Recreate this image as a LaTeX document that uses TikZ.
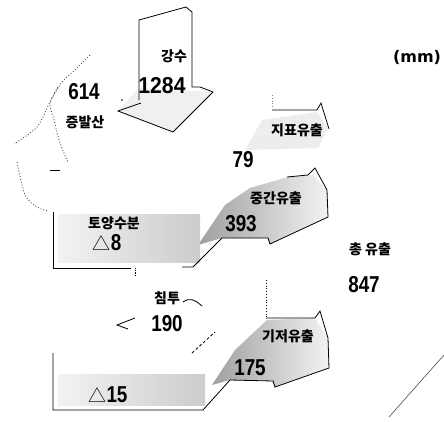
\documentclass[tikz,border=0pt]{standalone}
\usepackage{fontspec}
\usepackage{graphicx}
\setmainfont{Liberation Sans}
\newfontfamily\kr{Noto Sans CJK KR}[UprightFont={* Black}]
\newfontfamily\krl{Noto Sans CJK KR}
\newfontfamily\dv{DejaVu Sans}
\newcommand\numtxt[1]{\scalebox{0.82}[1]{\fontsize{23}{23}\selectfont\bfseries #1}}
\newcommand\trig{{\krl\fontsize{18}{18}\selectfont △}}
\begin{document}
\begin{tikzpicture}[x=1pt,y=-1pt,line width=0.8pt,
  kt/.style={font={\kr\fontsize{14}{14}\selectfont},inner sep=0pt},
  nm/.style={inner sep=0pt},
  band/.style={left color=gray!75,right color=gray!10},
  boxfill/.style={left color=gray!10,right color=gray!40},
  evap/.style={dotted,line width=0.9pt,gray!60!black}]
\useasboundingbox (0,0) rectangle (444,421);
\fill[white] (0,0) rectangle (444,421);
% light fills
\fill[gray!12] (139,88) -- (213,92) -- (173,132) -- (118,111) -- cycle;
\fill[gray!14] (245,150) -- (262,120) -- (317,112) -- (328,128) -- (318,148) -- cycle;
\shade[band] (198,245) -- (225,205) -- (250,188) -- (288,177) -- (313,175) -- (327,190) -- (328,217) -- (270,244) -- (268,238) -- (222,238) -- cycle;
\shade[band] (212,385) -- (235,350) -- (267,320) -- (315,318) -- (328,338) -- (329,368) -- (275,387) -- (273,381) -- (230,380) -- cycle;
\shade[boxfill] (58,214) rectangle (200,262);
\shade[boxfill] (58,374) rectangle (205,405);
% precipitation arrow
\draw (139,100) -- (139,20) -- (186,7) -- (192,12) -- (192,87) -- (200,87) -- (213,92) -- (173,132) -- (118,111) -- (141,103);
\fill (122,100) circle (0.8);
% evapotranspiration dotted plumes
\draw[evap] plot[smooth] coordinates {(90,55) (75,70) (62,82) (50,102) (37,127) (14,144)};
\draw[evap] plot[smooth] coordinates {(17,162) (25,195) (37,207) (48,211)};
\draw[evap] plot[smooth] coordinates {(58,87) (50,103) (54,120) (60,143) (68,162)};
\draw (50,170) -- (60,170);
% surface runoff
\draw (272,110) -- (317,110) -- (321,103) -- (329,129);
\draw[dotted,gray] (272,95) -- (272,108);
% interflow
\draw (287,177) -- (308,175) -- (315,168) -- (327,190) -- (328,217) -- (270,244) -- (268,238) -- (222,238) -- (193,267) -- (182,267);
% soil box
\draw (53,212) -- (53,268) -- (131,268);
\draw[densely dotted] (135,268) -- (135,276);
% infiltration
\draw (183,302) .. controls (190,297) and (195,300) .. (202,306);
\draw (135,318) -- (117,325) -- (128,329);
\draw[densely dashed] (192,353) -- (215,332);
\draw[dotted] (266,280) -- (266,318);
% baseflow and groundwater box
\draw (266,318) -- (315,318) -- (320,311) -- (328,338) -- (329,368) -- (275,387) -- (273,381) -- (230,380) -- (203,410) -- (53,410) -- (53,353);
% far right line
\draw[line width=0.6pt,gray!60!black] (389,417) -- (444,355);
% texts
\node[kt] (kangsu) at (174,56) {강수};
\node[nm] (pval) at (162,86) {\scalebox{0.92}[1]{\fontsize{23}{23}\selectfont\bfseries 1284}};
\node[nm] (evval) at (84,92) {\numtxt{614}};
\node[kt] (evlab) at (85,122) {증발산};
\node[nm,font={\dv\fontsize{16}{16}\selectfont\bfseries}] (unit) at (417,57) {(mm)};
\node[kt] (srlab) at (297,130) {지표유출};
\node[nm] (srval) at (243,160) {\numtxt{79}};
\node[kt] (irlab) at (276,198) {중간유출};
\node[nm] (irval) at (241,224) {\numtxt{393}};
\node[kt] (smlab) at (114,223) {토양수분};
\node[nm] (smval) at (107,243) {\trig\numtxt{8}};
\node[kt] (trlab) at (370,249) {총 유출};
\node[nm] (trval) at (364,285) {\numtxt{847}};
\node[kt] (inlab) at (167,298) {침투};
\node[nm] (inval) at (167,324) {\numtxt{190}};
\node[kt] (bflab) at (288,336) {기저유출};
\node[nm] (bfval) at (250,368) {\numtxt{175}};
\node[nm] (gwval) at (108,395) {\trig\numtxt{15}};
\end{tikzpicture}
\end{document}
